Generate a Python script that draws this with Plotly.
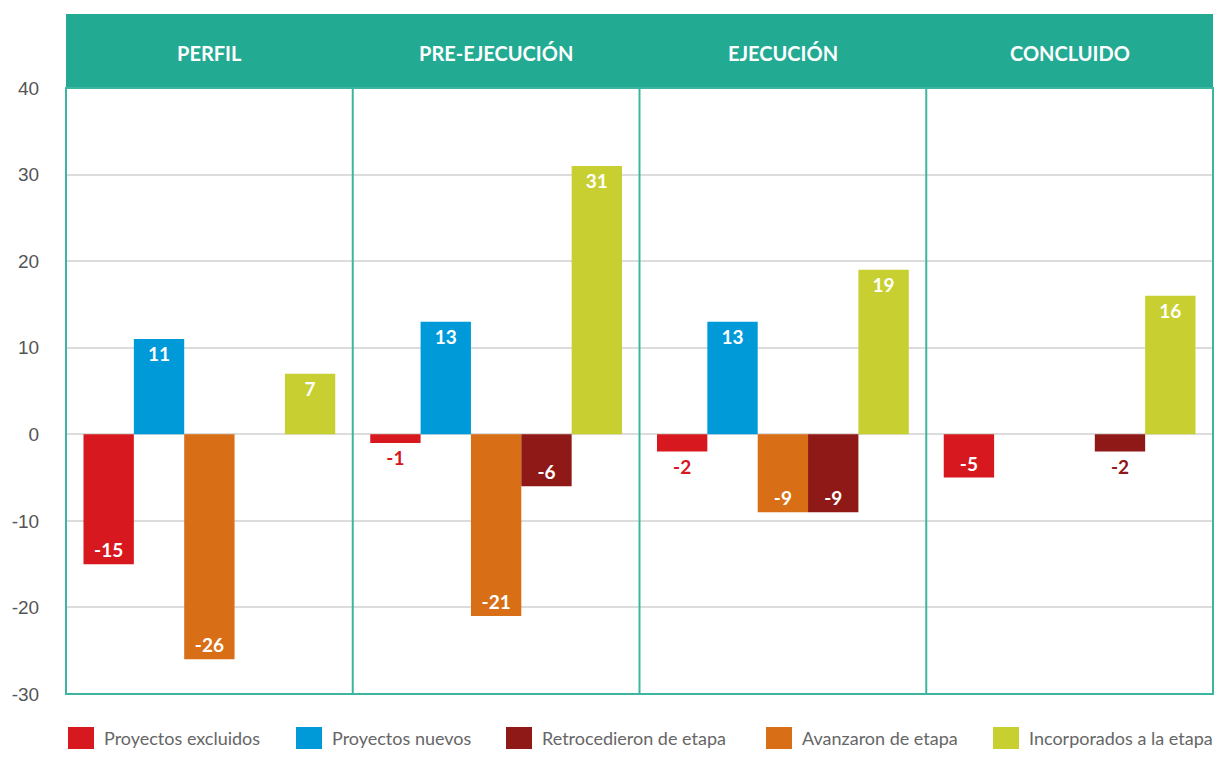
import plotly.graph_objects as go

etapas = ['PERFIL', 'PRE-EJECUCIÓN', 'EJECUCIÓN', 'CONCLUIDO']

excluidos = [-15, -1, -2, -5]
nuevos = [11, 13, 13, None]
avanzaron = [-26, -21, -9, None]
retrocedieron = [None, -6, -9, -2]
incorporados = [7, 31, 19, 16]

y_ticks = [-30, -20, -10, 0, 10, 20, 30, 40]

teal = '#22aa93'
series = [
    ('Proyectos excluidos', excluidos, '#d7191f'),
    ('Proyectos nuevos', nuevos, '#009ad8'),
    ('Avanzaron de etapa', avanzaron, '#d86e15'),
    ('Retrocedieron de etapa', retrocedieron, '#8f1916'),
    ('Incorporados a la etapa', incorporados, '#c8cf30'),
]

# the page body adds an 8px margin on every side, so the figure must stay
# inside 1206x741 to avoid scrollbars
W, H = 1206, 741
L, R, T, B = 58, 1, 80, 55
pw, ph = W - L - R, H - T - B
bottom_px = 8 + H - B   # page y of the plot bottom

fig = go.Figure()
for name, vals, color in series:
    # small bars get their label outside, in the bar colour
    pos = ['outside' if v is not None and abs(v) < 3 else 'inside' for v in vals]
    tcol = [color if p == 'outside' else 'white' for p in pos]
    fig.add_trace(go.Bar(
        x=etapas, y=vals, name=name,
        marker=dict(color=color, line=dict(width=0)),
        text=[str(v) if v is not None else '' for v in vals],
        textposition=pos,
        insidetextanchor='end',
        textfont=dict(family='Lato', size=19, color=tcol, weight='bold'),
        cliponaxis=False,
        showlegend=False,
    ))

# header band with stage names
fig.add_shape(type='rect', xref='paper', yref='paper', x0=0, x1=1, y0=1, y1=1 + 74 / ph,
              fillcolor=teal, line=dict(width=0), layer='above')
for e in etapas:
    fig.add_annotation(x=e, xref='x', y=1 + 35 / ph, yref='paper', yanchor='middle',
                       text=f'<b>{e}</b>', showarrow=False,
                       font=dict(family='Lato', size=20, color='white'))

# frame and column separators
fig.add_shape(type='rect', xref='paper', yref='paper', x0=0, x1=1, y0=0, y1=1,
              line=dict(color='#3db6a1', width=2), layer='above')
for xb in [0.5, 1.5, 2.5]:
    fig.add_shape(type='line', xref='x', yref='paper', x0=xb, x1=xb, y0=0, y1=1,
                  line=dict(color='#3db6a1', width=2), layer='above')

# legend drawn below the plot (x, y in page pixels)
leg_x = [68, 296, 506, 766, 993]
for (name, vals, color), px0 in zip(series[:2] + [series[3], series[2], series[4]], leg_x):
    x0 = (px0 - 8 - L) / pw
    fig.add_shape(type='rect', xref='paper', yref='paper',
                  x0=x0, x1=x0 + 26 / pw,
                  y0=(bottom_px - 749) / ph, y1=(bottom_px - 727) / ph,
                  fillcolor=color, line=dict(width=0))
    fig.add_annotation(x=x0 + 34 / pw, xref='paper', y=(bottom_px - 738) / ph, yref='paper',
                       text=name, showarrow=False, xanchor='left', yanchor='middle',
                       font=dict(family='Lato', size=18, color='#666666'))

fig.update_layout(
    width=W, height=H,
    margin=dict(l=L, r=R, t=T, b=B),
    paper_bgcolor='white', plot_bgcolor='white',
    barmode='group', bargap=0.122, bargroupgap=0,
    font=dict(family='Lato', color='#555555'),
)
fig.update_xaxes(showticklabels=False, showgrid=False, zeroline=False, showline=False,
                 range=[-0.5, 3.5])
fig.update_yaxes(range=[-30, 40], tickvals=y_ticks, ticktext=[str(v) for v in y_ticks],
                 showgrid=True, gridcolor='#dcdcdc', gridwidth=1.5,
                 zeroline=False, showline=False, automargin=False,
                 ticks='outside', ticklen=22, tickcolor='rgba(0,0,0,0)',
                 tickfont=dict(family='Liberation Sans', size=19, color='#555555'))

fig.write_html('out.html')
